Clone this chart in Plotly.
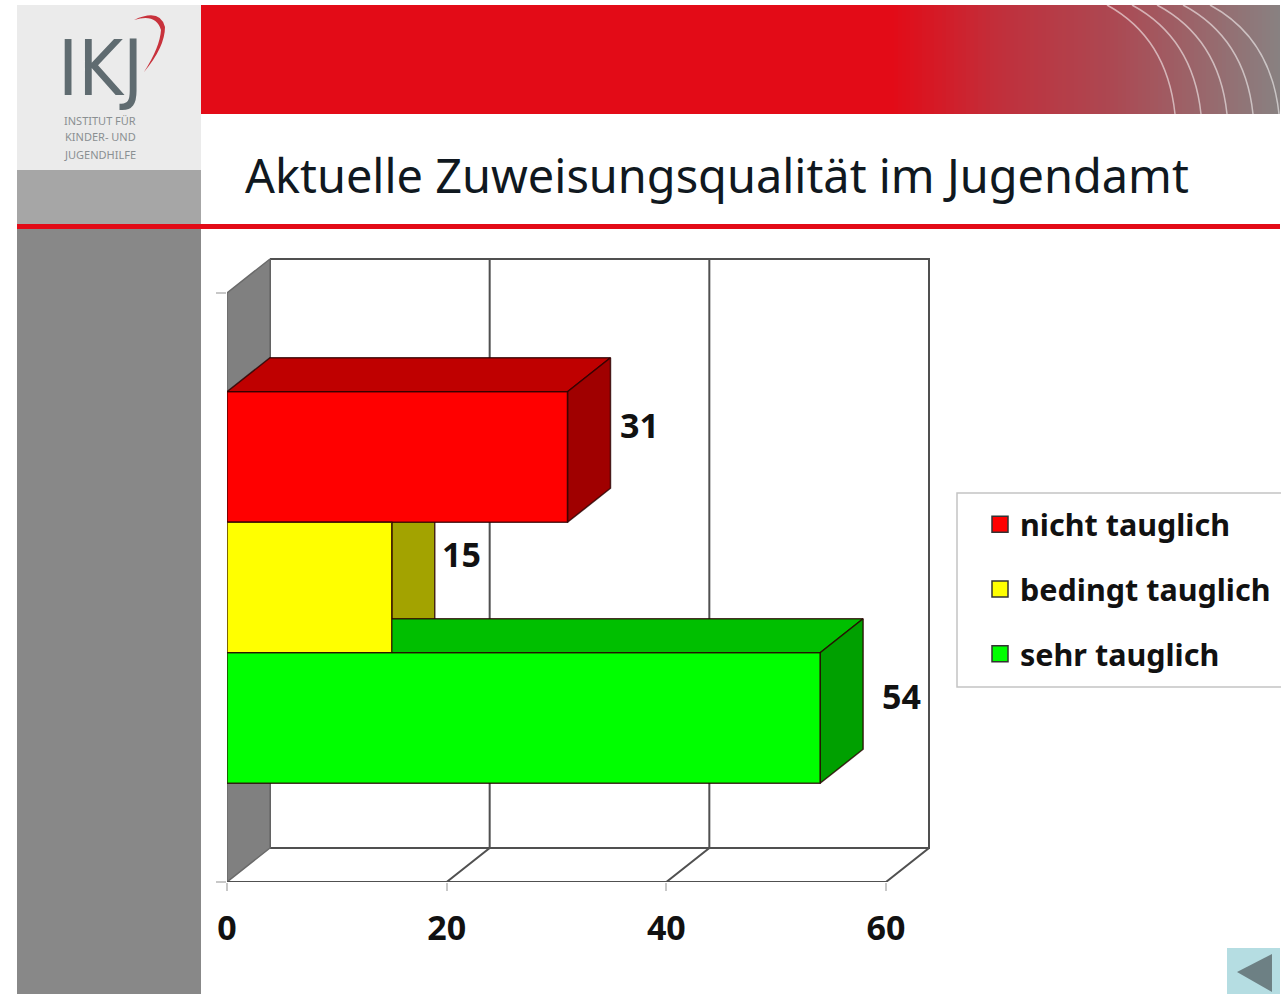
import plotly.graph_objects as go

categories = ["nicht tauglich", "bedingt tauglich", "sehr tauglich"]
values = [31, 15, 54]
tick_values = [0, 20, 40, 60]
title_text = "Aktuelle Zuweisungsqualität im Jugendamt"

front_colors = ["#ff0000", "#ffff00", "#00ff00"]
top_colors = ["#bf0000", "#bfbf00", "#00bf00"]
side_colors = ["#a00000", "#a3a300", "#00a000"]
label_nudges = [((8, 32)), ((5, 34)), ((17, 22))]

W, H = 1286, 994
LEFT, X60 = 227, 886
BOTTOM, UNIT = 882, 130.5
CENTER0 = 718
DEPTH_X, DEPTH_Y = 43, 34
FRONT_TOP = 293
RIGHT, TOP = 948, 250

px_per_x = (X60 - LEFT) / 60
dx = DEPTH_X / px_per_x
dy = DEPTH_Y / UNIT
x_max = (RIGHT - LEFT) / px_per_x
y_min = -(BOTTOM - CENTER0) / UNIT
y_max = (CENTER0 - TOP) / UNIT
y_front_top = (CENTER0 - FRONT_TOP) / UNIT
xwall = tick_values[-1]
ypos = {c: len(categories) - 1 - i for i, c in enumerate(categories)}


def px(x):
    return x / W


def py(y):
    return 1 - y / H


def rect(x0, y0, x1, y1, color):
    return dict(type="rect", xref="paper", yref="paper", layer="below",
                x0=px(x0), x1=px(x1), y0=py(y0), y1=py(y1),
                fillcolor=color, line=dict(width=0))


def path(points, color=None, line=None, close=True):
    d = ""
    for cmd, *p in points:
        d += cmd + " ".join(f"{p[i] / W:.5f},{1 - p[i + 1] / H:.5f}" for i in range(0, len(p), 2)) + " "
    if close:
        d += "Z"
    return dict(type="path", xref="paper", yref="paper", layer="below", path=d,
                fillcolor=color or "rgba(0,0,0,0)",
                line=line or dict(width=0))


def mix(a, b, t):
    return "rgb(" + ",".join(str(round(a[i] + (b[i] - a[i]) * t)) for i in range(3)) + ")"


shapes = [
    rect(17, 5, 201, 170, "#ebebeb"),
    rect(17, 170, 201, 224, "#a6a6a6"),
    rect(17, 228, 201, 994, "#888888"),
    rect(201, 5, 905, 114, "#e30b17"),
]
stops = [(890, (227, 11, 23)), (1000, (192, 48, 60)), (1110, (172, 72, 82)), (1280, (136, 130, 130))]
for x in range(890, 1280, 4):
    for (a, ca), (b, cb) in zip(stops, stops[1:]):
        if a <= x <= b:
            shapes.append(rect(x, 5, min(x + 5, 1280), 114, mix(ca, cb, (x - a) / (b - a))))
            break
for x_top, x_bot in [(1107, 1175), (1132, 1201), (1157, 1227), (1183, 1253), (1210, 1279)]:
    shapes.append(path([("M", x_top, 5), ("Q", x_bot - 8, 38, x_bot, 114)],
                       line=dict(color="rgba(255,255,255,0.55)", width=1.5), close=False))
shapes += [
    rect(17, 224, 1280, 229, "#e30b17"),
    path([("M", 134, 20), ("Q", 160, 8, 165, 27), ("Q", 165, 47, 144, 72),
          ("Q", 160, 47, 161, 30), ("Q", 156, 13, 134, 20)], color="#c8323c"),
    rect(957, 493, 1281, 687, "#ffffff"),
    path([("M", 1281, 493), ("L", 957, 493), ("L", 957, 687), ("L", 1281, 687)],
         line=dict(color="#c4c4c4", width=1.5), close=False),
    rect(1227, 948, 1280, 994, "#b5dde2"),
    path([("M", 1237, 972), ("L", 1272, 954), ("L", 1272, 992)], color="#6d8084"),
]

fig = go.Figure()
edge = dict(color="#505050", width=2)
fig.add_trace(go.Scatter(x=[dx, xwall + dx, xwall + dx, dx, dx],
                         y=[y_front_top + dy, y_front_top + dy, y_min + dy, y_min + dy, y_front_top + dy],
                         mode="lines", fill="toself", fillcolor="#ffffff", line=edge,
                         showlegend=False, hoverinfo="skip"))
fig.add_trace(go.Scatter(x=[0, dx, dx, 0, 0],
                         y=[y_front_top, y_front_top + dy, y_min + dy, y_min, y_front_top],
                         mode="lines", fill="toself", fillcolor="#808080", line=dict(color="#6a6a6a", width=1.5),
                         showlegend=False, hoverinfo="skip"))
grid_x, grid_y = [], []
for t in tick_values[1:]:
    grid_x += [t, t + dx, t + dx, None]
    grid_y += [y_min, y_min + dy, y_front_top + dy, None]
grid_x += [0, xwall]
grid_y += [y_min, y_min]
fig.add_trace(go.Scatter(x=grid_x, y=grid_y, mode="lines", line=edge, showlegend=False, hoverinfo="skip"))

outline = dict(color="rgba(40,0,0,0.8)", width=1.5)
for i, (cat, v) in enumerate(zip(categories, values)):
    yb = ypos[cat] - 0.5
    yt = ypos[cat] + 0.5
    fig.add_trace(go.Scatter(x=[0, v, v + dx, dx, 0], y=[yt, yt, yt + dy, yt + dy, yt],
                             mode="lines", fill="toself", fillcolor=top_colors[i], line=outline,
                             showlegend=False, hoverinfo="skip"))
    fig.add_trace(go.Scatter(x=[v, v + dx, v + dx, v, v], y=[yt, yt + dy, yb + dy, yb, yt],
                             mode="lines", fill="toself", fillcolor=side_colors[i], line=outline,
                             showlegend=False, hoverinfo="skip"))

for i, (cat, v) in enumerate(zip(categories, values)):
    fig.add_trace(go.Bar(x=[v], y=[cat], orientation="h", width=1, xaxis="x2", yaxis="y2",
                         marker=dict(color=front_colors[i], line=outline),
                         showlegend=False, name=cat))
    fig.add_trace(go.Scatter(x=[None], y=[None], mode="markers", name=cat, legendgroup=cat,
                             marker=dict(symbol="square", size=16, color=front_colors[i],
                                         line=dict(color="#333333", width=1.5))))

number_font = dict(family="Noto Sans", size=34, color="#111111", weight="bold")
legend_font = dict(family="Noto Sans", size=30.5, color="#111111", weight="bold")
annotations = [
    dict(text=title_text, xref="paper", yref="paper", x=px(243), y=py(175), xanchor="left", yanchor="middle",
         showarrow=False, font=dict(family="Noto Sans", size=46.9, color="#101820")),
    dict(text="IKJ", xref="paper", yref="paper", x=px(100), y=py(69), xanchor="center", yanchor="middle",
         showarrow=False, font=dict(family="DejaVu Sans Condensed, Lato", size=76, color="#5f6b70")),
]
for line_text, yy in zip(["INSTITUT FÜR", "KINDER- UND", "JUGENDHILFE"], [120, 136, 154]):
    annotations.append(dict(text=line_text, xref="paper", yref="paper", x=px(100), y=py(yy), xanchor="center",
                            yanchor="middle", showarrow=False,
                            font=dict(family="Noto Sans", size=11, color="#8a8f92")))
for i, (cat, v) in enumerate(zip(categories, values)):
    nudge_x, nudge_y = label_nudges[i]
    annotations.append(dict(text=str(v), x=v + dx, y=ypos[cat], xref="x", yref="y", xanchor="left",
                            yanchor="middle", xshift=nudge_x, yshift=nudge_y, showarrow=False, font=number_font))

x_dom = [px(LEFT), px(RIGHT)]
y_dom = [py(BOTTOM), py(TOP)]
fig.update_layout(
    width=W, height=H, margin=dict(l=0, r=0, t=0, b=0, pad=0, autoexpand=False),
    paper_bgcolor="#ffffff", plot_bgcolor="rgba(0,0,0,0)",
    barmode="overlay", shapes=shapes, annotations=annotations, hovermode=False,
    xaxis=dict(domain=x_dom, range=[0, x_max], tickmode="array", tickvals=tick_values,
               ticks="outside", ticklen=8, tickcolor="#c8c8c8", tickwidth=2, showgrid=False, zeroline=False,
               showline=False, tickfont=number_font, ticklabelstandoff=8),
    yaxis=dict(domain=y_dom, anchor="x", range=[y_min, y_max], tickmode="array",
               tickvals=[y_min, y_front_top], ticktext=["", ""], ticks="outside", ticklen=10,
               tickcolor="#c8c8c8", tickwidth=2, showgrid=False, zeroline=False, showline=False),
    xaxis2=dict(domain=x_dom, range=[0, x_max], overlaying="x", anchor="y2", visible=False),
    yaxis2=dict(domain=y_dom, range=[y_min, y_max], overlaying="y", anchor="x2", visible=False, type="category",
                categoryorder="array", categoryarray=categories[::-1]),
    legend=dict(x=px(980), y=py(498), xanchor="left", yanchor="top",
                bgcolor="rgba(0,0,0,0)", borderwidth=0, font=legend_font, tracegroupgap=22,
                itemclick=False, itemdoubleclick=False, traceorder="grouped"),
    showlegend=True,
)

fig.write_html("out.html", config=dict(displayModeBar=False),
               post_script="document.body.style.margin='0';document.body.style.overflow='hidden';")
